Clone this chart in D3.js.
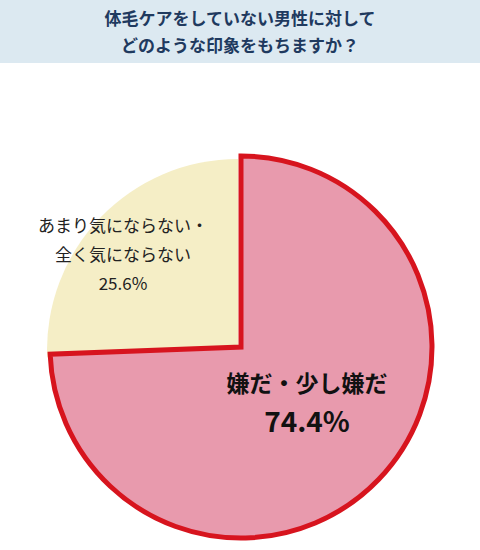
<!DOCTYPE html>
<html><head><meta charset="utf-8">
<script src="https://cdn.jsdelivr.net/npm/d3@7"></script>
<style>body{margin:0;background:#fff;font-family:"Noto Sans CJK JP",sans-serif;}</style>
</head><body>
<svg id="chart" width="480" height="550"></svg>
<script>
// Values
var titleLines = ["体毛ケアをしていない男性に対して", "どのような印象をもちますか？"];
var categories = ["嫌だ・少し嫌だ", "あまり気にならない・全く気にならない"];
var values = [74.4, 25.6];

var svg = d3.select("#chart");
svg.append("rect").attr("width", 480).attr("height", 63).attr("fill", "#dce9f1");
svg.selectAll(".title").data(titleLines).enter().append("text")
    .attr("x", 240).attr("y", function(d, i) { return 25 + i * 27; })
    .attr("text-anchor", "middle").attr("font-size", 17).attr("font-weight", "bold")
    .attr("fill", "#1f3a5f").text(function(d) { return d; });

var cx = 238, cy = 350, r = 191;
var pie = d3.pie().sort(null).value(function(d) { return d; });
var arc = d3.arc().innerRadius(0).outerRadius(r);
var arcs = pie(values);
var g = svg.append("g").attr("transform", "translate(" + cx + "," + cy + ")");

// cream slice
g.append("path").attr("d", arc(arcs[1])).attr("fill", "#f5eec6");
// pink slice, slightly pulled out
g.append("path").attr("d", arc(arcs[0])).attr("transform", "translate(3,-3)")
    .attr("fill", "#e89aad").attr("stroke", "#d7141e").attr("stroke-width", 5)
    .attr("stroke-linejoin", "miter");

// labels
var pinkLab = [categories[0], values[0] + "%"];
svg.selectAll(".pl").data(pinkLab).enter().append("text")
    .attr("x", 307).attr("y", function(d, i) { return 392 + i * 40; })
    .attr("text-anchor", "middle").attr("font-size", function(d, i) { return i ? 28 : 23; })
    .attr("font-weight", "bold").attr("fill", "#111").text(function(d) { return d; });

var creamLab = ["あまり気にならない・", "全く気にならない", values[1] + "%"];
svg.selectAll(".cl").data(creamLab).enter().append("text")
    .attr("x", function(d, i) { return i ? 123 : 123; })
    .attr("y", function(d, i) { return 232 + i * 29; })
    .attr("text-anchor", "middle").attr("font-size", 17).attr("fill", "#222")
    .text(function(d) { return d; });
</script>
</body></html>
